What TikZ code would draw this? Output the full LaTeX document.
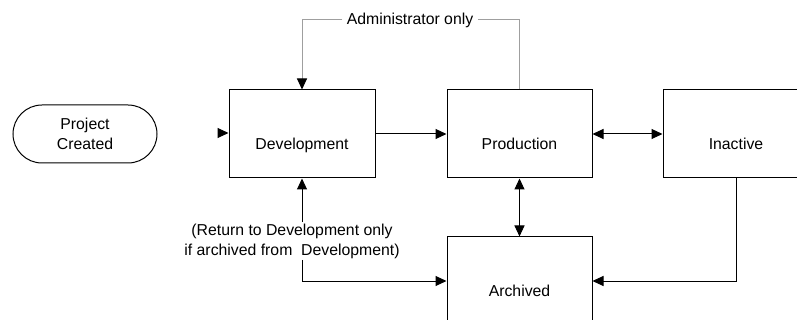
\documentclass[tikz,border=0pt]{standalone}
\usepackage{fontspec}
\setmainfont{Liberation Sans}
\usetikzlibrary{arrows.meta,shapes.misc}
\begin{document}
\begin{tikzpicture}[x=1pt,y=-1pt,
  font=\fontsize{15.8}{20}\selectfont,
  line width=1pt,
  tip/.tip={Triangle[length=11pt,width=10pt]},
  box/.style={draw,minimum width=146pt,minimum height=88pt,inner sep=0pt,align=center,text height=31pt,text depth=0pt},
  admin/.style={draw=gray!75},
  lbl/.style={inner sep=0pt,align=center}]
\useasboundingbox (0,0) rectangle (797,320);
\begin{scope}
\clip (0,0) rectangle (797,320);
\node[draw,rounded rectangle,minimum width=144pt,minimum height=58pt,inner sep=0pt,align=center] (proj) at (85,134) {Project\\Created};
\node[box] (dev) at (302,134) {Development};
\node[box,minimum width=145pt] (prod) at (519.5,134) {Production};
\node[box] (inact) at (736,134) {Inactive};
\node[box,minimum width=145pt] (arch) at (519.5,281) {Archived};
\node[lbl,inner xsep=4pt] (adm) at (410,20) {Administrator only};
\node[lbl,inner ysep=1pt] (ret) at (292,241) {(Return to Development only\\if archived from\ \ Development)};
\coordinate (entry) at (218,133);
\draw[-tip] (entry) -- (dev.west |- entry);
\draw[-tip] (dev.east) -- (prod.west);
\draw[tip-tip] (prod.east) -- (inact.west);
\draw[tip-tip] (prod.south) -- (arch.north);
\draw[-tip] (inact.south) |- (arch.east);
\draw[-tip] (ret.north -| dev.south) -- (dev.south);
\draw[-tip] (ret.south -| dev.south) |- (arch.west);
\draw[admin] (prod.north) |- (adm.east);
\draw[admin,-{Triangle[length=11pt,width=10pt,color=black]}] (adm.west) -| (dev.north);
\end{scope}
\end{tikzpicture}
\end{document}
